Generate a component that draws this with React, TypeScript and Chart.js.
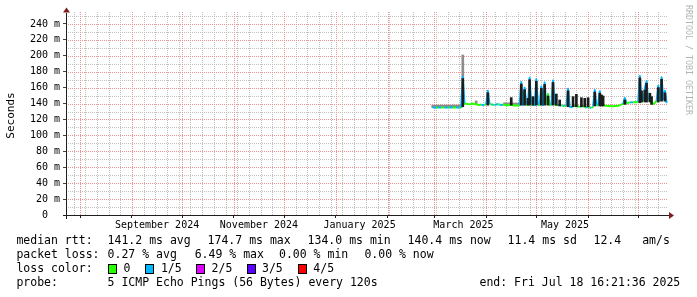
import React, { useEffect, useRef } from 'react';
import { Chart, registerables } from 'chart.js';

Chart.register(...registerables);

// ---- time axis: days relative to 2025-01-01 00:00 ----
const xStartDay = -160.9;
const xEndDay = 198.83;
const monthStartDays = [-153, -122, -92, -61, -31, 0, 31, 59, 90, 120, 151, 181];
const firstSundayDay = -157;
const monthLabels = ['September 2024', 'November 2024', 'January 2025', 'March 2025', 'May 2025'];
const monthLabelDays = [-107.0, -46.0, 14.2, 76.4, 137.2];

// ---- value axis (ms) ----
const yMajorTicks = [0, 20, 40, 60, 80, 100, 120, 140, 160, 180, 200, 220, 240];
const yTickLabels = ['0  ', '20 m', '40 m', '60 m', '80 m', '100 m', '120 m', '140 m', '160 m', '180 m', '200 m', '220 m', '240 m'];
const yMinorTicks = [10, 30, 50, 70, 90, 110, 130, 150, 170, 190, 210, 230, 250];

// ---- median rtt, one value per day from day 58 (27 Feb 2025) ----
const medianFirstDay = 58;
const medianMs = [
  135.2, 135.0, 134.8, 135.1, 135.3, 135.0, 134.9, 135.2, 135.0, 134.8,
  135.1, 135.3, 135.0, 134.9, 135.1, 135.0, 134.8, 135.2, 173.8, 139.6,
  139.9, 139.4, 139.1, 139.5, 140.0, 139.3, 139.0, 138.6, 138.3, 138.7,
  138.1, 138.5, 138.9, 156.0, 139.3, 139.0, 138.6, 138.3, 138.9, 139.4,
  138.5, 138.1, 138.7, 138.4, 138.0, 137.8, 138.2, 138.3, 138.0, 137.6,
  137.9, 137.5, 137.8, 167.0, 138.4, 160.0, 138.0, 138.5, 172.5, 138.2,
  138.6, 138.0, 170.5, 138.3, 137.9, 161.5, 138.1, 166.5, 138.4, 152.0,
  138.6, 138.0, 169.0, 138.5, 138.2, 137.8, 138.5, 137.6, 137.2, 137.0,
  136.8, 158.5, 136.0, 135.5, 136.8, 137.2, 137.0, 136.4, 135.8, 136.6,
  137.0, 136.2, 134.5, 136.8, 135.2, 134.2, 136.5, 157.0, 137.5, 137.8,
  155.5, 138.0, 138.2, 137.5, 137.2, 137.0, 136.8, 136.6, 136.5, 136.8,
  137.0, 137.3, 138.0, 139.0, 139.5, 147.0, 140.0, 141.0, 141.5, 141.8,
  141.3, 142.0, 141.6, 142.2, 174.7, 142.5, 143.0, 159.5, 168.0, 143.5,
  144.0, 140.0, 139.5, 141.0, 143.5, 162.5, 144.0, 173.0, 145.5, 156.0,
  140.4,
];
// loss index per day: 0 = 0, 1 = 1/5
const lossIdx = [
  1, 1, 0, 1, 1, 0, 0, 1, 1, 0,
  1, 1, 0, 0, 1, 1, 0, 1, 1, 0,
  0, 0, 0, 0, 0, 0, 0, 0, 0, 1,
  1, 0, 0, 1, 0, 1, 0, 1, 1, 0,
  1, 1, 0, 0, 0, 0, 0, 0, 0, 0,
  0, 0, 0, 1, 0, 1, 0, 0, 1, 0,
  1, 0, 1, 0, 0, 1, 0, 1, 0, 0,
  0, 0, 1, 0, 0, 1, 1, 0, 1, 0,
  0, 1, 1, 1, 0, 0, 0, 0, 1, 0,
  0, 0, 1, 0, 1, 0, 0, 1, 0, 0,
  1, 0, 0, 0, 0, 0, 0, 0, 0, 0,
  0, 0, 0, 0, 0, 1, 0, 0, 1, 1,
  0, 0, 0, 0, 1, 0, 0, 1, 1, 0,
  0, 0, 0, 0, 0, 1, 0, 1, 0, 1,
  0,
];

// ---- dark smoke spikes ----
const spikeDays = [76, 91, 105, 111, 113, 115, 116, 118, 120, 123, 125, 127, 130, 132, 134, 139, 142, 144, 147, 149, 151, 155, 158, 159, 160, 173, 182, 183, 185, 186, 188, 189, 193, 195, 197];
const spikeLoMs = [136, 138, 138, 138, 138, 138, 138, 138, 138, 138, 138, 138, 138, 138, 137, 136, 136, 136, 136, 136, 136, 137, 137, 137, 137, 139, 141, 142, 142, 142, 142, 139, 142, 143, 143];
const spikeHiMs = [171.5, 153.5, 147.5, 164.5, 157.5, 146.6, 170, 148.7, 168, 159, 164, 149.5, 166.5, 152, 144.5, 156, 148.7, 151.6, 147.4, 146.6, 147.4, 154.5, 153, 150.8, 149.5, 144.5, 172.2, 156, 157, 165.5, 153, 148.7, 160, 170.5, 153.5];

// ---- light smoke ----
const greyDays = [58, 59, 60, 61, 62, 63, 64, 65, 66, 67, 68, 69, 70, 71, 72, 73, 74, 75, 76, 84, 101, 102, 103, 104, 105, 106, 107, 108, 109, 110];
const greyLoMs = [135, 135, 135, 135, 135, 135, 135, 135, 135, 135, 135, 135, 135, 135, 135, 135, 135, 135, 171.5, 139, 138, 138, 138, 138, 138, 138, 138, 138, 138, 138];
const greyHiMs = [138, 137.8, 138.2, 138, 137.9, 138.1, 138, 137.8, 138.2, 138, 138.1, 137.9, 138, 138.2, 137.8, 138, 138.1, 138, 201, 143.3, 141, 140.8, 140.6, 141, 140.9, 140.7, 140.5, 140.8, 140.4, 140.6];

// ---- legend ----
const lossColors = ['#26ff00', '#00b8ff', '#dd00ff', '#5e00ff', '#ff0000'];
const lossLegendLabels = ['0', '1/5', '2/5', '3/5', '4/5'];
const legendRowLabels = ['median rtt:', 'packet loss:', 'loss color:', 'probe:'];
const rttStats = ['141.2 ms avg', '174.7 ms max', '134.0 ms min', '140.4 ms now', '11.4 ms sd', '12.4', 'am/s'];
const lossStats = ['0.27 % avg', '6.49 % max', '0.00 % min', '0.00 % now'];
const probeText = '5 ICMP Echo Pings (56 Bytes) every 120s';
const endText = 'end: Fri Jul 18 16:21:36 2025';
const watermarkText = 'RRDTOOL / TOBI OETIKER';

const MONO = "'DejaVu Sans Mono', monospace";

export default function App() {
  const ref = useRef<HTMLCanvasElement>(null);

  useEffect(() => {
    document.body.style.margin = '0';
    const canvas = ref.current;
    if (!canvas) return;

    const medianDays = medianMs.map((_, i) => medianFirstDay + i);

    // x ticks (month grid, weekly grid, labels)
    const seen = new Set<number>();
    const xTicksAll: any[] = [];
    monthStartDays.forEach((d) => { seen.add(d); xTicksAll.push({ value: d, kind: 'month', label: '' }); });
    for (let d = firstSundayDay; d <= xEndDay; d += 7) {
      if (!seen.has(d)) xTicksAll.push({ value: d, kind: 'week', label: '' });
    }
    monthLabelDays.forEach((d, i) => xTicksAll.push({ value: d, kind: 'label', label: monthLabels[i] }));
    const xTicks = xTicksAll.filter((t) => t.value >= xStartDay && t.value <= xEndDay).sort((a, b) => a.value - b.value);

    const yTicks = [
      ...yMajorTicks.map((v, i) => ({ value: v, major: true, label: yTickLabels[i] })),
      ...yMinorTicks.map((v) => ({ value: v, major: false, label: '' })),
    ].sort((a, b) => a.value - b.value);

    const MAJOR = 'rgb(236,146,146)';
    const MINOR = 'rgb(192,192,192)';

    // dotted grid drawn pixel by pixel (1 on / 1 off)
    const gridPlugin = {
      id: 'rrdGrid',
      beforeDatasetsDraw(chart: any) {
        const c = chart.ctx;
        const xs = chart.scales.x;
        const ys = chart.scales.y;
        const { left, right, top, bottom } = chart.chartArea;
        c.save();
        const vLines = (kind: string, color: string) => {
          c.fillStyle = color;
          xTicks.forEach((t) => {
            if (t.kind !== kind) return;
            const px = Math.round(xs.getPixelForValue(t.value));
            for (let y = top - 4; y < bottom; y += 2) c.fillRect(px, y, 1, 1);
          });
        };
        const hLines = (major: boolean, color: string) => {
          c.fillStyle = color;
          yTicks.forEach((t) => {
            if (t.major !== major || t.value === 0) return;
            const py = Math.round(ys.getPixelForValue(t.value));
            for (let x = left + 1; x < right; x += 2) c.fillRect(x, py, 1, 1);
          });
        };
        vLines('week', MINOR);
        hLines(false, MINOR);
        vLines('month', MAJOR);
        hLines(true, MAJOR);
        c.restore();
      },
    };

    const decor = {
      id: 'rrdDecor',
      afterDraw(chart: any) {
        const c = chart.ctx;
        const { left, right, top, bottom } = chart.chartArea;
        c.save();
        c.setLineDash([]);
        // axes
        c.strokeStyle = '#1f1f1f';
        c.lineWidth = 1;
        c.beginPath();
        c.moveTo(left - 4, bottom + 0.5);
        c.lineTo(right + 1, bottom + 0.5);
        c.moveTo(left - 0.5, bottom + 4);
        c.lineTo(left - 0.5, top - 3);
        c.stroke();
        // arrows
        c.fillStyle = '#801f1f';
        c.beginPath();
        c.moveTo(left - 4, top - 3.5);
        c.lineTo(left + 3, top - 3.5);
        c.lineTo(left - 0.5, top - 8.5);
        c.closePath();
        c.fill();
        c.beginPath();
        c.moveTo(right + 1, bottom - 3);
        c.lineTo(right + 1, bottom + 4);
        c.lineTo(right + 6, bottom + 0.5);
        c.closePath();
        c.fill();

        // legend
        c.fillStyle = '#000';
        c.font = `11.5px ${MONO}`;
        c.textBaseline = 'middle';
        c.textAlign = 'left';
        const rows = [241.5, 255.3, 269.2, 283];
        legendRowLabels.forEach((t, i) => c.fillText(t, 16.4, rows[i]));
        const rttX = [107.6, 207.6, 307.6, 407.6, 507.6, 593.5, 642.2];
        rttStats.forEach((t, i) => c.fillText(t, rttX[i], rows[0]));
        const lossX = [107.6, 194.7, 279, 364.4];
        lossStats.forEach((t, i) => c.fillText(t, lossX[i], rows[1]));
        const boxX = [108, 145, 196, 247, 298];
        const boxLabelX = [123.6, 160.9, 211.6, 262, 313.3];
        lossColors.forEach((col, i) => {
          c.fillStyle = col;
          c.fillRect(boxX[i], 264, 9, 10);
          c.strokeStyle = '#000';
          c.strokeRect(boxX[i] + 0.5, 264.5, 8, 9);
          c.fillStyle = '#000';
          c.fillText(lossLegendLabels[i], boxLabelX[i], rows[2]);
        });
        c.fillText(probeText, 107.6, rows[3]);
        c.fillText(endText, 479.5, rows[3]);

        // watermark
        c.save();
        c.translate(688, 5);
        c.rotate(Math.PI / 2);
        c.font = `8.3px ${MONO}`;
        c.fillStyle = '#b4b4b4';
        c.textBaseline = 'middle';
        c.fillText(watermarkText, 0, 0);
        c.restore();
        c.restore();
      },
    };

    const chart = new Chart(canvas, {
      type: 'line',
      data: {
        datasets: [
          {
            type: 'bar',
            label: 'smoke light',
            data: greyDays.map((d, i) => ({ x: d, y: [greyLoMs[i], greyHiMs[i]] })),
            backgroundColor: '#8c8c8c',
            borderWidth: 0,
            barThickness: 2,
            grouped: false,
            order: 3,
          } as any,
          {
            type: 'line',
            label: 'median rtt',
            data: medianDays.map((d, i) => ({ x: d, y: medianMs[i] })),
            borderColor: lossColors[0],
            borderWidth: 2,
            borderJoinStyle: 'round',
            pointRadius: 0,
            tension: 0,
            segment: {
              borderColor: (ctx: any) => {
                const i = ctx.p1.parsed.y - ctx.p0.parsed.y > 3 ? ctx.p1DataIndex : ctx.p0DataIndex;
                return lossColors[lossIdx[i]];
              },
            },
            order: 2,
          } as any,
          {
            type: 'bar',
            label: 'smoke',
            data: spikeDays.map((d, i) => ({ x: d, y: [spikeLoMs[i], spikeHiMs[i]] })),
            backgroundColor: '#1c1c1c',
            borderWidth: 0,
            barThickness: 2,
            grouped: false,
            order: 1,
          } as any,
        ],
      },
      options: {
        animation: false,
        responsive: false,
        devicePixelRatio: 1,
        layout: { padding: { left: 0, right: 29, top: 16, bottom: 62 } },
        plugins: { legend: { display: false }, tooltip: { enabled: false } },
        scales: {
          x: {
            type: 'linear',
            min: xStartDay,
            max: xEndDay,
            offset: false,
            afterBuildTicks: (scale: any) => {
              scale.ticks = xTicks.map((t) => ({ value: t.value }));
            },
            afterFit: (scale: any) => { scale.height = 20; },
            ticks: {
              autoSkip: false,
              maxRotation: 0,
              minRotation: 0,
              padding: 1,
              color: '#000',
              font: { family: MONO, size: 10 },
              callback: (_v: any, index: number) => xTicks[index] ? xTicks[index].label : '',
            },
            grid: {
              drawOnChartArea: false,
              offset: false,
              lineWidth: 1,
              tickLength: 3,
              color: 'rgba(0,0,0,0)',
              tickColor: (ctx: any) => {
                const t = xTicks[ctx.index];
                return t && t.kind === 'month' ? '#1f1f1f' : 'rgba(0,0,0,0)';
              },
            },
            border: { display: false },
          },
          y: {
            type: 'linear',
            min: 0,
            max: 250,
            afterBuildTicks: (scale: any) => {
              scale.ticks = yTicks.map((t) => ({ value: t.value }));
            },
            afterFit: (scale: any) => { scale.width = 67; },
            title: {
              display: true,
              text: 'Seconds',
              color: '#000',
              font: { family: MONO, size: 11 },
              padding: { top: 4.4, bottom: 0 },
            },
            ticks: {
              padding: 3,
              color: '#000',
              font: { family: MONO, size: 10 },
              callback: (_v: any, index: number) => yTicks[index] ? yTicks[index].label : '',
            },
            grid: {
              drawOnChartArea: false,
              lineWidth: 1,
              tickLength: 4,
              color: 'rgba(0,0,0,0)',
              tickColor: (ctx: any) => {
                const t = yTicks[ctx.index];
                return t && t.major ? '#404040' : 'rgba(0,0,0,0)';
              },
            },
            border: { display: false },
          },
        },
      } as any,
      plugins: [gridPlugin, decor],
    });

    return () => chart.destroy();
  }, []);

  return (
    <div style={{ width: 697, height: 297, background: '#fff' }}>
      <canvas ref={ref} width={697} height={297} style={{ display: 'block' }} />
    </div>
  );
}
